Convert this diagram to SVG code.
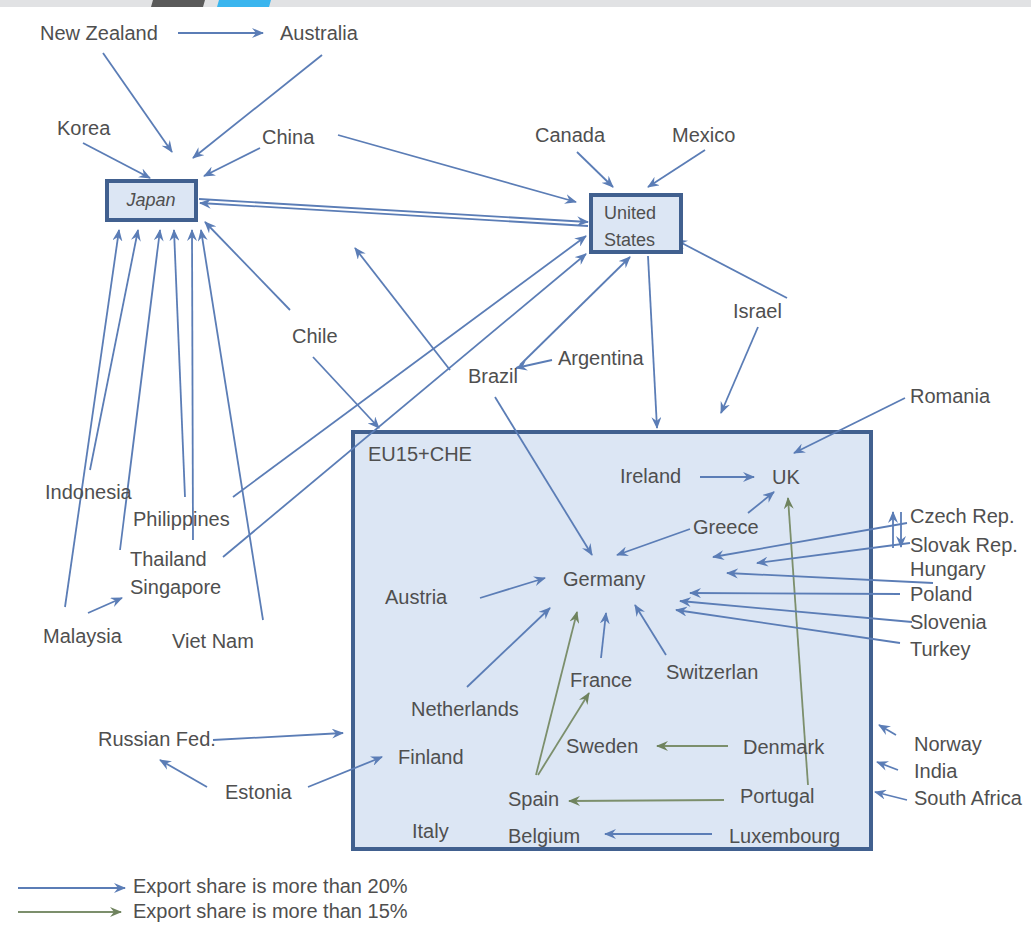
<svg xmlns="http://www.w3.org/2000/svg" width="1031" height="937" viewBox="0 0 1031 937">
<style>
.t{font-family:"Liberation Sans",Arial,sans-serif;font-size:20px;fill:#4f4f4f}
.b{stroke:#5b7db6;stroke-width:1.8;fill:none;marker-end:url(#ab)}
.g{stroke:#7c8f6c;stroke-width:1.8;fill:none;marker-end:url(#ag)}
.box{fill:#dce6f4;stroke:#41608f;stroke-width:4}
</style>
<defs>
<marker id="ab" markerUnits="userSpaceOnUse" markerWidth="12" markerHeight="10" refX="11" refY="5" orient="auto"><path d="M0,0 L12,5 L0,10 L4,5 z" fill="#5b7db6"/></marker>
<marker id="ag" markerUnits="userSpaceOnUse" markerWidth="12" markerHeight="10" refX="11" refY="5" orient="auto"><path d="M0,0 L12,5 L0,10 L4,5 z" fill="#6f835e"/></marker>
</defs>
<rect width="1031" height="937" fill="#ffffff"/>
<g id="topbar">
<rect x="0" y="0" width="1031" height="7" fill="#e1e2e4"/>
<polygon points="153,0 205,0 203,7 151,7" fill="#5a5a5a"/>
<polygon points="219,0 271,0 269,7 217,7" fill="#3ab5ee"/>
</g>
<g id="eu">
<rect class="box" x="353" y="432" width="518" height="417"/>
<text class="t" x="368" y="461">EU15+CHE</text>
</g>
<g id="connectors">
<line class="b" x1="178" y1="33" x2="263" y2="33"/>
<line class="b" x1="103" y1="53" x2="172" y2="152"/>
<line class="b" x1="322" y1="55" x2="193" y2="158"/>
<line class="b" x1="83" y1="143" x2="150" y2="178"/>
<line class="b" x1="260" y1="148" x2="204" y2="176"/>
<line class="b" x1="338" y1="135" x2="576" y2="202"/>
<line class="b" x1="199" y1="199" x2="588" y2="222"/>
<line class="b" x1="588" y1="226" x2="200" y2="203"/>
<line class="b" x1="577" y1="152" x2="613" y2="187"/>
<line class="b" x1="705" y1="150" x2="648" y2="187"/>
<line class="b" x1="290" y1="310" x2="205" y2="222"/>
<line class="b" x1="313" y1="357" x2="379" y2="428"/>
<line class="b" x1="450" y1="370" x2="355" y2="248"/>
<line class="b" x1="495" y1="397" x2="592" y2="555"/>
<line class="b" x1="552" y1="360" x2="516" y2="368"/>
<line class="b" x1="520" y1="365" x2="630" y2="257"/>
<line class="b" x1="233" y1="497" x2="586" y2="236"/>
<line class="b" x1="223" y1="557" x2="586" y2="254"/>
<line class="b" x1="648" y1="256" x2="657" y2="428"/>
<line class="b" x1="787" y1="298" x2="676" y2="240"/>
<line class="b" x1="758" y1="327" x2="721" y2="413"/>
<line class="b" x1="905" y1="398" x2="794" y2="453"/>
<line class="b" x1="700" y1="477" x2="754" y2="477"/>
<line class="b" x1="748" y1="513" x2="774" y2="492"/>
<line class="b" x1="690" y1="529" x2="617" y2="555"/>
<line class="g" x1="808" y1="785" x2="788" y2="498"/>
<line class="b" x1="907" y1="523" x2="713" y2="557"/>
<line class="b" x1="910" y1="543" x2="757" y2="563"/>
<line class="b" x1="933" y1="583" x2="727" y2="573"/>
<line class="b" x1="900" y1="594" x2="690" y2="593"/>
<line class="b" x1="912" y1="622" x2="680" y2="601"/>
<line class="b" x1="900" y1="643" x2="676" y2="610"/>
<line class="b" x1="893" y1="548" x2="893" y2="512"/>
<line class="b" x1="901" y1="512" x2="901" y2="547"/>
<line class="b" x1="480" y1="598" x2="545" y2="578"/>
<line class="b" x1="467" y1="687" x2="550" y2="608"/>
<line class="g" x1="536" y1="775" x2="577" y2="612"/>
<line class="g" x1="538" y1="775" x2="589" y2="693"/>
<line class="b" x1="601" y1="658" x2="606" y2="613"/>
<line class="b" x1="666" y1="655" x2="635" y2="605"/>
<line class="g" x1="728" y1="746" x2="657" y2="746"/>
<line class="g" x1="724" y1="800" x2="569" y2="801"/>
<line class="b" x1="712" y1="834" x2="605" y2="834"/>
<line class="b" x1="213" y1="740" x2="343" y2="733"/>
<line class="b" x1="207" y1="787" x2="160" y2="760"/>
<line class="b" x1="308" y1="787" x2="382" y2="757"/>
<line class="b" x1="896" y1="735" x2="879" y2="725"/>
<line class="b" x1="898" y1="770" x2="877" y2="762"/>
<line class="b" x1="907" y1="800" x2="875" y2="792"/>
<line class="b" x1="65" y1="607" x2="119" y2="230"/>
<line class="b" x1="90" y1="470" x2="138" y2="230"/>
<line class="b" x1="120" y1="550" x2="160" y2="230"/>
<line class="b" x1="185" y1="497" x2="174" y2="230"/>
<line class="b" x1="193" y1="540" x2="192" y2="230"/>
<line class="b" x1="263" y1="620" x2="201" y2="230"/>
<line class="b" x1="88" y1="613" x2="122" y2="598"/>
</g>
<g id="japan">
<rect class="box" x="107" y="181" width="89" height="39"/>
<text class="t" x="151" y="206" text-anchor="middle" font-style="italic" style="font-size:18px">Japan</text>
</g>
<g id="us">
<rect class="box" x="591" y="195" width="90" height="57"/>
<text class="t" x="604" y="219" style="font-size:18px">United</text>
<text class="t" x="604" y="246" style="font-size:18px">States</text>
</g>
<g id="new-zealand"><text class="t" x="40" y="40">New Zealand</text></g>
<g id="australia"><text class="t" x="280" y="40">Australia</text></g>
<g id="korea"><text class="t" x="57" y="135">Korea</text></g>
<g id="china"><text class="t" x="262" y="144">China</text></g>
<g id="canada"><text class="t" x="535" y="142">Canada</text></g>
<g id="mexico"><text class="t" x="672" y="142">Mexico</text></g>
<g id="chile"><text class="t" x="292" y="343">Chile</text></g>
<g id="israel"><text class="t" x="733" y="318">Israel</text></g>
<g id="brazil"><text class="t" x="468" y="383">Brazil</text></g>
<g id="argentina"><text class="t" x="558" y="365">Argentina</text></g>
<g id="romania"><text class="t" x="910" y="403">Romania</text></g>
<g id="indonesia"><text class="t" x="45" y="499">Indonesia</text></g>
<g id="philippines"><text class="t" x="133" y="526">Philippines</text></g>
<g id="thailand"><text class="t" x="130" y="566">Thailand</text></g>
<g id="singapore"><text class="t" x="130" y="594">Singapore</text></g>
<g id="malaysia"><text class="t" x="43" y="643">Malaysia</text></g>
<g id="viet-nam"><text class="t" x="172" y="648">Viet Nam</text></g>
<g id="ireland"><text class="t" x="620" y="483">Ireland</text></g>
<g id="uk"><text class="t" x="772" y="484">UK</text></g>
<g id="greece"><text class="t" x="693" y="534">Greece</text></g>
<g id="germany"><text class="t" x="563" y="586">Germany</text></g>
<g id="austria"><text class="t" x="385" y="604">Austria</text></g>
<g id="netherlands"><text class="t" x="411" y="716">Netherlands</text></g>
<g id="france"><text class="t" x="570" y="687">France</text></g>
<g id="switzerland"><text class="t" x="666" y="679">Switzerlan</text></g>
<g id="czech"><text class="t" x="910" y="523">Czech Rep.</text></g>
<g id="slovak"><text class="t" x="910" y="552">Slovak Rep.</text></g>
<g id="hungary"><text class="t" x="910" y="576">Hungary</text></g>
<g id="poland"><text class="t" x="910" y="601">Poland</text></g>
<g id="slovenia"><text class="t" x="910" y="629">Slovenia</text></g>
<g id="turkey"><text class="t" x="910" y="656">Turkey</text></g>
<g id="russia"><text class="t" x="98" y="746">Russian Fed.</text></g>
<g id="estonia"><text class="t" x="225" y="799">Estonia</text></g>
<g id="finland"><text class="t" x="398" y="764">Finland</text></g>
<g id="sweden"><text class="t" x="566" y="753">Sweden</text></g>
<g id="denmark"><text class="t" x="743" y="754">Denmark</text></g>
<g id="norway"><text class="t" x="914" y="751">Norway</text></g>
<g id="india"><text class="t" x="914" y="778">India</text></g>
<g id="spain"><text class="t" x="508" y="806">Spain</text></g>
<g id="portugal"><text class="t" x="740" y="803">Portugal</text></g>
<g id="south-africa"><text class="t" x="914" y="805">South Africa</text></g>
<g id="italy"><text class="t" x="412" y="838">Italy</text></g>
<g id="belgium"><text class="t" x="508" y="843">Belgium</text></g>
<g id="luxembourg"><text class="t" x="729" y="843">Luxembourg</text></g>
<g id="legend">
<line class="b" x1="18" y1="888" x2="125" y2="888"/>
<text class="t" x="133" y="893">Export share is more than 20%</text>
<line class="g" x1="18" y1="912" x2="121" y2="912"/>
<text class="t" x="133" y="918">Export share is more than 15%</text>
</g>
</svg>
